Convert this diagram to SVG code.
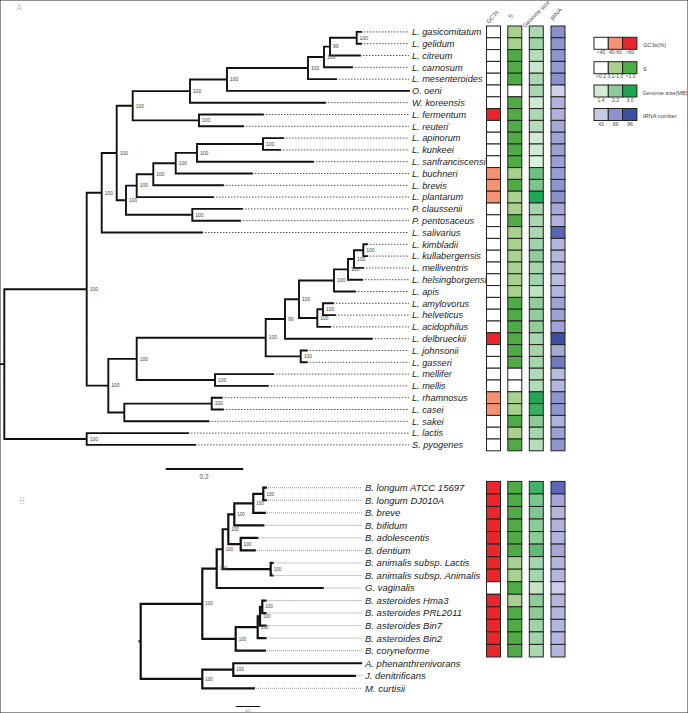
<svg xmlns="http://www.w3.org/2000/svg" width="688" height="713" viewBox="0 0 688 713">
<style>
.br{stroke:#111;stroke-width:1.9;fill:none;stroke-linecap:square}
.bb{stroke:#111;stroke-width:2.2;fill:none;stroke-linecap:square}
.dt{stroke:#444;stroke-width:0.9;stroke-dasharray:1.5 1.5;fill:none}
.db{stroke:#666;stroke-width:0.7;stroke-dasharray:1 1;fill:none}
.tx{font-family:"Liberation Sans",Arial,sans-serif;font-style:italic;font-size:9.2px;fill:#222}
.tb{font-family:"Liberation Sans",Arial,sans-serif;font-style:italic;font-size:9.5px;fill:#222}
.bs{font-family:"Liberation Sans",Arial,sans-serif;font-size:5px;fill:#444}
.bs2{font-family:"Liberation Sans",Arial,sans-serif;font-size:4.5px;fill:#444}
.hd{font-family:"Liberation Sans",Arial,sans-serif;font-size:6px;fill:#555}
.lg{font-family:"Liberation Sans",Arial,sans-serif;font-size:5.6px;fill:#444}
.lt{font-family:"Liberation Sans",Arial,sans-serif;font-size:5px;fill:#444;text-anchor:middle}
.pl{font-family:"DejaVu Sans",sans-serif;font-size:9px;fill:#aaa;font-weight:200}
rect{stroke:#222;stroke-width:1}
.w{fill:#fff}.r{fill:#e8262b}.o{fill:#f59272}.s1{fill:#a9d18e}.s2{fill:#4eab46}
</style>
<rect x="0" y="0" width="688" height="713" fill="#fff" stroke="none"/>
<text class="pl" x="16" y="11">A</text>
<text class="pl" x="19" y="504">B</text>
<text class="hd" transform="translate(489,24) rotate(-50)">GC3s</text>
<text class="hd" transform="translate(511,19) rotate(-50)">S</text>
<text class="hd" transform="translate(525,28) rotate(-45)">Genome size</text>
<text class="hd" transform="translate(553,21) rotate(-50)">tRNA</text>
<g id="legend">
<rect x="594" y="37.3" width="14.3" height="12" class="w"/><rect x="608.3" y="37.3" width="14.3" height="12" class="o"/><rect x="622.6" y="37.3" width="14.3" height="12" class="r"/>
<text class="lt" x="601" y="54">&lt;40</text><text class="lt" x="615.5" y="54">40-60</text><text class="lt" x="630" y="54">&gt;60</text>
<text class="lg" x="643" y="46.5">GC3s(%)</text>
<rect x="594" y="61.7" width="14.3" height="12" class="w"/><rect x="608.3" y="61.7" width="14.3" height="12" class="s1"/><rect x="622.6" y="61.7" width="14.3" height="12" class="s2"/>
<text class="lt" x="601" y="78.3">&lt;0.2</text><text class="lt" x="615.5" y="78.3">0.2-1.0</text><text class="lt" x="630.5" y="78.3">&gt;1.0</text>
<text class="lg" x="643" y="70.5">S</text>
<rect x="594" y="85" width="14.3" height="12" fill="#d3ebd5"/><rect x="608.3" y="85" width="14.3" height="12" fill="#8ccb99"/><rect x="622.6" y="85" width="14.3" height="12" fill="#1ba550"/>
<text class="lt" x="601" y="102">1.4</text><text class="lt" x="615.5" y="102">2.2</text><text class="lt" x="630" y="102">3.0</text>
<text class="lg" x="642.5" y="94.5">Genome size(MB)</text>
<rect x="594" y="108.5" width="14.3" height="12" fill="#c6c9e6"/><rect x="608.3" y="108.5" width="14.3" height="12" fill="#8c92ce"/><rect x="622.6" y="108.5" width="14.3" height="12" fill="#3a50a3"/>
<text class="lt" x="601" y="125.5">43</text><text class="lt" x="615.5" y="125.5">69</text><text class="lt" x="630" y="125.5">96</text>
<text class="lg" x="643" y="118">tRNA number</text>
</g>
<g id="connectors">
<path class="br" d="M356.7 31.9V43.7M356.7 31.9H361M356.7 43.7H361
M330 37.8V55.5M330 37.8H356.7M330 55.5H360
M324 46.65V67.3M324 46.65H330M324 67.3H352
M308 56.98V79.1M308 56.98H324M308 79.1H336
M227 68.04V90.9M227 68.04H308M227 90.9H409
M190 79.47V102.7M190 79.47H227M190 102.7H325
M199 114.5V126.3M199 114.5H263M199 126.3H243
M132.7 91.09V120.4M132.7 91.09H190M132.7 120.4H199
M263 138.1V149.9M263 138.1H283M263 149.9H280
M197 144V161.7M197 144H263M197 161.7H313
M175.7 152.85V173.5M175.7 152.85H197M175.7 173.5H252
M153.3 163.18V185.3M153.3 163.18H175.7M153.3 185.3H223
M136.7 174.24V197.1M136.7 174.24H153.3M136.7 197.1H213
M192.3 208.9V220.7M192.3 208.9H242M192.3 220.7H240
M126 185.67V214.8M126 185.67H136.7M126 214.8H192.3
M116.7 105.74V200.24M116.7 105.74H132.7M116.7 200.24H126
M101.7 152.99V232.5M101.7 152.99H116.7M101.7 232.5H202
M363.3 244.3V256.1M363.3 244.3H367M363.3 256.1H367
M354 250.2V267.9M354 250.2H363.3M354 267.9H363
M348 259.05V279.7M348 259.05H354M348 279.7H362
M334 269.38V291.5M334 269.38H348M334 291.5H355
M323 303.3V315.1M323 303.3H333M323 315.1H335
M317.3 309.2V326.9M317.3 309.2H323M317.3 326.9H330
M299 280.44V318.05M299 280.44H334M299 318.05H317.3
M285 299.25V338.7M285 299.25H299M285 338.7H371.7
M300.7 350.5V362.3M300.7 350.5H306.7M300.7 362.3H306.7
M265.7 318.98V356.4M265.7 318.98H285M265.7 356.4H300.7
M215 374.1V385.9M215 374.1H273M215 385.9H267.7
M136.7 337.69V380M136.7 337.69H265.7M136.7 380H215
M211.7 397.7V409.5M211.7 397.7H221.7M211.7 409.5H223
M124.3 403.6V421.3M124.3 403.6H211.7M124.3 421.3H208.3
M108.3 358.85V412.45M108.3 358.85H136.7M108.3 412.45H124.3
M86.7 192.75V385.65M86.7 192.75H101.7M86.7 385.65H108.3
M86.7 433.1V444.9M86.7 433.1H188M86.7 444.9H195
M4.3 289.2V439M4.3 289.2H86.7M4.3 439H86.7M0 364.1H4.3"/>
<path class="dt" d="M361 31.9H409M361 43.7H409M360 55.5H409M352 67.3H409M336 79.1H409M325 102.7H409M263 114.5H409M243 126.3H409M283 138.1H409M280 149.9H409M313 161.7H409M252 173.5H409M223 185.3H409M213 197.1H409M242 208.9H409M240 220.7H409M202 232.5H409M367 244.3H409M367 256.1H409M363 267.9H409M362 279.7H409M355 291.5H409M333 303.3H409M335 315.1H409M330 326.9H409M371.7 338.7H409M306.7 350.5H409M306.7 362.3H409M273 374.1H409M267.7 385.9H409M221.7 397.7H409M223 409.5H409M208.3 421.3H409M188 433.1H409M195 444.9H409"/>
<path class="bb" d="M263.3 487.7V500.24M263.3 487.7H266M263.3 500.24H266
M253.3 493.97V512.78M253.3 493.97H263.3M253.3 512.78H265
M234.3 503.38V525.32M234.3 503.38H253.3M234.3 525.32H263.3
M240.7 537.86V550.4M240.7 537.86H257.3M240.7 550.4H255
M228.3 514.35V544.13M228.3 514.35H234.3M228.3 544.13H240.7
M270.7 562.94V575.48M270.7 562.94H272.5M270.7 575.48H272.5
M222.7 529.24V569.21M222.7 529.24H228.3M222.7 569.21H270.7
M216.7 549.23V588.02M216.7 549.23H222.7M216.7 588.02H322.7
M262.3 600.56V613.1M262.3 600.56H265.5M262.3 613.1H265.5
M260 606.83V625.64M260 606.83H262.3M260 625.64H265.5
M257.7 616.24V638.18M257.7 616.24H260M257.7 638.18H265.5
M235.7 627.21V650.72M235.7 627.21H257.7M235.7 650.72H265
M202.3 568.63V638.97M202.3 568.63H216.7M202.3 638.97H235.7
M233.3 663.26V675.8M233.3 663.26H361M233.3 675.8H355
M202.3 669.53V688.34M202.3 669.53H233.3M202.3 688.34H254
M140.7 603.8V678.94M140.7 603.8H202.3M140.7 678.94H202.3"/>
<circle cx="139.4" cy="641.4" r="1.1" fill="#111"/>
<path class="db" d="M266 487.7H362M266 500.24H362M265 512.78H362M263.3 525.32H362M257.3 537.86H362M255 550.4H362M272.5 562.94H362M272.5 575.48H362M322.7 588.02H362M265.5 600.56H362M265.5 613.1H362M265.5 625.64H362M265.5 638.18H362M265 650.72H362M355 675.8H362M254 688.34H362"/>
</g>
<g id="bootstrap-A" class="bs">
<text x="359.5" y="39.6">100</text><text x="333" y="48.4">99</text><text x="327" y="58.7">100</text><text x="311" y="69.8">100</text>
<text x="230" y="81.2">100</text><text x="193" y="92.8">100</text><text x="202" y="122.1">100</text><text x="135.7" y="107.5">100</text>
<text x="266" y="145.7">100</text><text x="200" y="154.6">100</text><text x="178.7" y="164.9">100</text><text x="156.3" y="176">100</text>
<text x="139.7" y="187.4">100</text><text x="195.3" y="216.5">100</text><text x="129" y="202">100</text><text x="119.7" y="154.7">100</text>
<text x="104.7" y="194.5">100</text><text x="366.3" y="251.9">100</text><text x="357" y="260.8">100</text><text x="351" y="271.1">100</text>
<text x="337" y="282.2">100</text><text x="326" y="310.9">100</text><text x="320.3" y="319.8">100</text><text x="302" y="301">100</text>
<text x="288" y="320.7">99</text><text x="303.7" y="358.1">100</text><text x="268.7" y="339.4">100</text><text x="218" y="381.7">100</text>
<text x="139.7" y="360.6">100</text><text x="214.7" y="405.3">100</text><text x="111.3" y="387.4">100</text><text x="89.7" y="291">100</text>
<text x="89.7" y="440.7">100</text>
</g>
<g id="bootstrap-B" class="bs2">
<text x="266.5" y="495.6">100</text><text x="256.3" y="505">100</text><text x="237.3" y="516">100</text><text x="231.3" y="530.9">100</text>
<text x="243.7" y="545.8">100</text><text x="273.7" y="570.8">100</text><text x="225.7" y="550.9">100</text><text x="219.7" y="570.3">100</text>
<text x="265.3" y="608.4">100</text><text x="263" y="617.9">100</text><text x="260.7" y="628.9">100</text><text x="238.7" y="640.6">100</text>
<text x="205.3" y="605.4">100</text><text x="236.3" y="671.2">100</text><text x="205.3" y="680.6">100</text>
</g>
<g id="scale-bars">
<path d="M165.7 469H243.3" stroke="#111" stroke-width="2"/>
<text x="204" y="479" font-family="Liberation Sans, Arial, sans-serif" font-size="6.5" fill="#555" text-anchor="middle">0.2</text>
<path d="M236 706.5H260" stroke="#111" stroke-width="1"/>
<text x="248" y="712" font-family="Liberation Sans, Arial, sans-serif" font-size="3.5" fill="#555" text-anchor="middle">0.2</text>
</g>
<g id="taxa-A">
<g id="A-gasicomitatum"><text class="tx" x="412" y="35.2">L. gasicomitatum</text><rect x="486.5" y="26" width="14" height="11.8" class="w"/><rect x="507.8" y="26" width="14" height="11.8" class="s1"/><rect x="529.3" y="26" width="14" height="11.8" fill="#a9d8b2"/><rect x="551" y="26" width="14" height="11.8" fill="#8a90cc"/></g>
<g id="A-gelidum"><text class="tx" x="412" y="47">L. gelidum</text><rect x="486.5" y="37.8" width="14" height="11.8" class="w"/><rect x="507.8" y="37.8" width="14" height="11.8" class="s1"/><rect x="529.3" y="37.8" width="14" height="11.8" fill="#9fd3aa"/><rect x="551" y="37.8" width="14" height="11.8" fill="#8f95cf"/></g>
<g id="A-citreum"><text class="tx" x="412" y="58.8">L. citreum</text><rect x="486.5" y="49.6" width="14" height="11.8" class="w"/><rect x="507.8" y="49.6" width="14" height="11.8" class="s2"/><rect x="529.3" y="49.6" width="14" height="11.8" fill="#b5ddbc"/><rect x="551" y="49.6" width="14" height="11.8" fill="#8f95cf"/></g>
<g id="A-carnosum"><text class="tx" x="412" y="70.6">L. carnosum</text><rect x="486.5" y="61.4" width="14" height="11.8" class="w"/><rect x="507.8" y="61.4" width="14" height="11.8" class="s2"/><rect x="529.3" y="61.4" width="14" height="11.8" fill="#c8e6cc"/><rect x="551" y="61.4" width="14" height="11.8" fill="#959bd1"/></g>
<g id="A-mesenteroides"><text class="tx" x="412" y="82.4">L. mesenteroides</text><rect x="486.5" y="73.2" width="14" height="11.8" class="w"/><rect x="507.8" y="73.2" width="14" height="11.8" class="s2"/><rect x="529.3" y="73.2" width="14" height="11.8" fill="#a9d8b2"/><rect x="551" y="73.2" width="14" height="11.8" fill="#8a90cc"/></g>
<g id="A-oeni"><text class="tx" x="412" y="94.2">O. oeni</text><rect x="486.5" y="85" width="14" height="11.8" class="w"/><rect x="507.8" y="85" width="14" height="11.8" class="w"/><rect x="529.3" y="85" width="14" height="11.8" fill="#a7d7b0"/><rect x="551" y="85" width="14" height="11.8" fill="#d0d2eb"/></g>
<g id="A-koreensis"><text class="tx" x="412" y="106">W. koreensis</text><rect x="486.5" y="96.8" width="14" height="11.8" class="w"/><rect x="507.8" y="96.8" width="14" height="11.8" class="s2"/><rect x="529.3" y="96.8" width="14" height="11.8" fill="#cfe9d2"/><rect x="551" y="96.8" width="14" height="11.8" fill="#aeb2dc"/></g>
<g id="A-fermentum"><text class="tx" x="412" y="117.8">L. fermentum</text><rect x="486.5" y="108.6" width="14" height="11.8" class="r"/><rect x="507.8" y="108.6" width="14" height="11.8" class="s2"/><rect x="529.3" y="108.6" width="14" height="11.8" fill="#a9d8b2"/><rect x="551" y="108.6" width="14" height="11.8" fill="#aeb2dc"/></g>
<g id="A-reuteri"><text class="tx" x="412" y="129.6">L. reuteri</text><rect x="486.5" y="120.4" width="14" height="11.8" class="w"/><rect x="507.8" y="120.4" width="14" height="11.8" class="s2"/><rect x="529.3" y="120.4" width="14" height="11.8" fill="#b5ddbc"/><rect x="551" y="120.4" width="14" height="11.8" fill="#a4a8d7"/></g>
<g id="A-apinorum"><text class="tx" x="412" y="141.4">L. apinorum</text><rect x="486.5" y="132.2" width="14" height="11.8" class="w"/><rect x="507.8" y="132.2" width="14" height="11.8" class="s2"/><rect x="529.3" y="132.2" width="14" height="11.8" fill="#d3ebd5"/><rect x="551" y="132.2" width="14" height="11.8" fill="#9fa3d5"/></g>
<g id="A-kunkeei"><text class="tx" x="412" y="153.2">L. kunkeei</text><rect x="486.5" y="144" width="14" height="11.8" class="w"/><rect x="507.8" y="144" width="14" height="11.8" class="s2"/><rect x="529.3" y="144" width="14" height="11.8" fill="#cfe9d2"/><rect x="551" y="144" width="14" height="11.8" fill="#9aa0d3"/></g>
<g id="A-sanfranciscensis"><text class="tx" x="412" y="165">L. sanfranciscensis</text><rect x="486.5" y="155.8" width="14" height="11.8" class="w"/><rect x="507.8" y="155.8" width="14" height="11.8" class="s2"/><rect x="529.3" y="155.8" width="14" height="11.8" fill="#dcefdd"/><rect x="551" y="155.8" width="14" height="11.8" fill="#9aa0d3"/></g>
<g id="A-buchneri"><text class="tx" x="412" y="176.8">L. buchneri</text><rect x="486.5" y="167.6" width="14" height="11.8" class="o"/><rect x="507.8" y="167.6" width="14" height="11.8" class="s1"/><rect x="529.3" y="167.6" width="14" height="11.8" fill="#6fbf83"/><rect x="551" y="167.6" width="14" height="11.8" fill="#9a9fd3"/></g>
<g id="A-brevis"><text class="tx" x="412" y="188.6">L. brevis</text><rect x="486.5" y="179.4" width="14" height="11.8" class="o"/><rect x="507.8" y="179.4" width="14" height="11.8" class="s2"/><rect x="529.3" y="179.4" width="14" height="11.8" fill="#7cc58f"/><rect x="551" y="179.4" width="14" height="11.8" fill="#8f95cf"/></g>
<g id="A-plantarum"><text class="tx" x="412" y="200.4">L. plantarum</text><rect x="486.5" y="191.2" width="14" height="11.8" class="o"/><rect x="507.8" y="191.2" width="14" height="11.8" class="s1"/><rect x="529.3" y="191.2" width="14" height="11.8" fill="#1fa855"/><rect x="551" y="191.2" width="14" height="11.8" fill="#8a90cc"/></g>
<g id="A-claussenii"><text class="tx" x="412" y="212.2">P. claussenii</text><rect x="486.5" y="203" width="14" height="11.8" class="w"/><rect x="507.8" y="203" width="14" height="11.8" class="s1"/><rect x="529.3" y="203" width="14" height="11.8" fill="#a4d6ad"/><rect x="551" y="203" width="14" height="11.8" fill="#a4a8d7"/></g>
<g id="A-pentosaceus"><text class="tx" x="412" y="224">P. pentosaceus</text><rect x="486.5" y="214.8" width="14" height="11.8" class="w"/><rect x="507.8" y="214.8" width="14" height="11.8" class="s2"/><rect x="529.3" y="214.8" width="14" height="11.8" fill="#a9d8b2"/><rect x="551" y="214.8" width="14" height="11.8" fill="#aeb2dc"/></g>
<g id="A-salivarius"><text class="tx" x="412" y="235.8">L. salivarius</text><rect x="486.5" y="226.6" width="14" height="11.8" class="w"/><rect x="507.8" y="226.6" width="14" height="11.8" class="s1"/><rect x="529.3" y="226.6" width="14" height="11.8" fill="#a9d8b2"/><rect x="551" y="226.6" width="14" height="11.8" fill="#5a66b4"/></g>
<g id="A-kimbladii"><text class="tx" x="412" y="247.6">L. kimbladii</text><rect x="486.5" y="238.4" width="14" height="11.8" class="w"/><rect x="507.8" y="238.4" width="14" height="11.8" class="s1"/><rect x="529.3" y="238.4" width="14" height="11.8" fill="#9fd3aa"/><rect x="551" y="238.4" width="14" height="11.8" fill="#b3b6de"/></g>
<g id="A-kullabergensis"><text class="tx" x="412" y="259.4">L. kullabergensis</text><rect x="486.5" y="250.2" width="14" height="11.8" class="w"/><rect x="507.8" y="250.2" width="14" height="11.8" class="s1"/><rect x="529.3" y="250.2" width="14" height="11.8" fill="#8dcb98"/><rect x="551" y="250.2" width="14" height="11.8" fill="#b3b6de"/></g>
<g id="A-melliventris"><text class="tx" x="412" y="271.2">L. melliventris</text><rect x="486.5" y="262" width="14" height="11.8" class="w"/><rect x="507.8" y="262" width="14" height="11.8" class="s1"/><rect x="529.3" y="262" width="14" height="11.8" fill="#a4d6ad"/><rect x="551" y="262" width="14" height="11.8" fill="#b3b6de"/></g>
<g id="A-helsingborgensis"><text class="tx" x="412" y="283">L. helsingborgensis</text><rect x="486.5" y="273.8" width="14" height="11.8" class="w"/><rect x="507.8" y="273.8" width="14" height="11.8" class="s1"/><rect x="529.3" y="273.8" width="14" height="11.8" fill="#9fd3aa"/><rect x="551" y="273.8" width="14" height="11.8" fill="#b8bbe0"/></g>
<g id="A-apis"><text class="tx" x="412" y="294.8">L. apis</text><rect x="486.5" y="285.6" width="14" height="11.8" class="w"/><rect x="507.8" y="285.6" width="14" height="11.8" class="s1"/><rect x="529.3" y="285.6" width="14" height="11.8" fill="#bfe2c4"/><rect x="551" y="285.6" width="14" height="11.8" fill="#b3b6de"/></g>
<g id="A-amylovorus"><text class="tx" x="412" y="306.6">L. amylovorus</text><rect x="486.5" y="297.4" width="14" height="11.8" class="w"/><rect x="507.8" y="297.4" width="14" height="11.8" class="s2"/><rect x="529.3" y="297.4" width="14" height="11.8" fill="#90cc9c"/><rect x="551" y="297.4" width="14" height="11.8" fill="#9ea2d4"/></g>
<g id="A-helveticus"><text class="tx" x="412" y="318.4">L. helveticus</text><rect x="486.5" y="309.2" width="14" height="11.8" class="w"/><rect x="507.8" y="309.2" width="14" height="11.8" class="s2"/><rect x="529.3" y="309.2" width="14" height="11.8" fill="#90cc9c"/><rect x="551" y="309.2" width="14" height="11.8" fill="#9ea2d4"/></g>
<g id="A-acidophilus"><text class="tx" x="412" y="330.2">L. acidophilus</text><rect x="486.5" y="321" width="14" height="11.8" class="w"/><rect x="507.8" y="321" width="14" height="11.8" class="s2"/><rect x="529.3" y="321" width="14" height="11.8" fill="#90cc9c"/><rect x="551" y="321" width="14" height="11.8" fill="#9ea2d4"/></g>
<g id="A-delbrueckii"><text class="tx" x="412" y="342">L. delbrueckii</text><rect x="486.5" y="332.8" width="14" height="11.8" class="r"/><rect x="507.8" y="332.8" width="14" height="11.8" class="s2"/><rect x="529.3" y="332.8" width="14" height="11.8" fill="#a4d6ad"/><rect x="551" y="332.8" width="14" height="11.8" fill="#3b4fa2"/></g>
<g id="A-johnsonii"><text class="tx" x="412" y="353.8">L. johnsonii</text><rect x="486.5" y="344.6" width="14" height="11.8" class="w"/><rect x="507.8" y="344.6" width="14" height="11.8" class="s2"/><rect x="529.3" y="344.6" width="14" height="11.8" fill="#a4d6ad"/><rect x="551" y="344.6" width="14" height="11.8" fill="#a4a8d7"/></g>
<g id="A-gasseri"><text class="tx" x="412" y="365.6">L. gasseri</text><rect x="486.5" y="356.4" width="14" height="11.8" class="w"/><rect x="507.8" y="356.4" width="14" height="11.8" class="s2"/><rect x="529.3" y="356.4" width="14" height="11.8" fill="#a4d6ad"/><rect x="551" y="356.4" width="14" height="11.8" fill="#6f79bf"/></g>
<g id="A-mellifer"><text class="tx" x="412" y="377.4">L. mellifer</text><rect x="486.5" y="368.2" width="14" height="11.8" class="w"/><rect x="507.8" y="368.2" width="14" height="11.8" class="w"/><rect x="529.3" y="368.2" width="14" height="11.8" fill="#b0dbb8"/><rect x="551" y="368.2" width="14" height="11.8" fill="#b8bbe0"/></g>
<g id="A-mellis"><text class="tx" x="412" y="389.2">L. mellis</text><rect x="486.5" y="380" width="14" height="11.8" class="w"/><rect x="507.8" y="380" width="14" height="11.8" class="w"/><rect x="529.3" y="380" width="14" height="11.8" fill="#b0dbb8"/><rect x="551" y="380" width="14" height="11.8" fill="#b3b6de"/></g>
<g id="A-rhamnosus"><text class="tx" x="412" y="401">L. rhamnosus</text><rect x="486.5" y="391.8" width="14" height="11.8" class="o"/><rect x="507.8" y="391.8" width="14" height="11.8" class="s1"/><rect x="529.3" y="391.8" width="14" height="11.8" fill="#23a659"/><rect x="551" y="391.8" width="14" height="11.8" fill="#8f95cf"/></g>
<g id="A-casei"><text class="tx" x="412" y="412.8">L. casei</text><rect x="486.5" y="403.6" width="14" height="11.8" class="o"/><rect x="507.8" y="403.6" width="14" height="11.8" class="s1"/><rect x="529.3" y="403.6" width="14" height="11.8" fill="#3aae60"/><rect x="551" y="403.6" width="14" height="11.8" fill="#8f95cf"/></g>
<g id="A-sakei"><text class="tx" x="412" y="424.6">L. sakei</text><rect x="486.5" y="415.4" width="14" height="11.8" class="w"/><rect x="507.8" y="415.4" width="14" height="11.8" class="s2"/><rect x="529.3" y="415.4" width="14" height="11.8" fill="#8dcb98"/><rect x="551" y="415.4" width="14" height="11.8" fill="#aeb2dc"/></g>
<g id="A-lactis"><text class="tx" x="412" y="436.4">L. lactis</text><rect x="486.5" y="427.2" width="14" height="11.8" class="w"/><rect x="507.8" y="427.2" width="14" height="11.8" class="s1"/><rect x="529.3" y="427.2" width="14" height="11.8" fill="#a4d6ad"/><rect x="551" y="427.2" width="14" height="11.8" fill="#9aa0d3"/></g>
<g id="A-pyogenes"><text class="tx" x="412" y="448.2">S. pyogenes</text><rect x="486.5" y="439" width="14" height="11.8" class="w"/><rect x="507.8" y="439" width="14" height="11.8" class="s2"/><rect x="529.3" y="439" width="14" height="11.8" fill="#b5ddbc"/><rect x="551" y="439" width="14" height="11.8" fill="#8f95cf"/></g>
</g>
<g id="taxa-B">
<g id="B-longum-ATCC"><text class="tb" x="365" y="491">B. longum ATCC 15697</text><rect x="486.5" y="481.4" width="14" height="12.54" class="r"/><rect x="507.8" y="481.4" width="14" height="12.54" class="s2"/><rect x="529.3" y="481.4" width="14" height="12.54" fill="#3db468"/><rect x="551" y="481.4" width="14" height="12.54" fill="#5c67b5"/></g>
<g id="B-longum-DJ010A"><text class="tb" x="365" y="503.5">B. longum DJ010A</text><rect x="486.5" y="493.94" width="14" height="12.54" class="r"/><rect x="507.8" y="493.94" width="14" height="12.54" class="s2"/><rect x="529.3" y="493.94" width="14" height="12.54" fill="#7bc68e"/><rect x="551" y="493.94" width="14" height="12.54" fill="#a2a6d6"/></g>
<g id="B-breve"><text class="tb" x="365" y="516.1">B. breve</text><rect x="486.5" y="506.48" width="14" height="12.54" class="r"/><rect x="507.8" y="506.48" width="14" height="12.54" class="s2"/><rect x="529.3" y="506.48" width="14" height="12.54" fill="#80c892"/><rect x="551" y="506.48" width="14" height="12.54" fill="#b3b6de"/></g>
<g id="B-bifidum"><text class="tb" x="365" y="528.6">B. bifidum</text><rect x="486.5" y="519.02" width="14" height="12.54" class="r"/><rect x="507.8" y="519.02" width="14" height="12.54" class="s2"/><rect x="529.3" y="519.02" width="14" height="12.54" fill="#8dcb98"/><rect x="551" y="519.02" width="14" height="12.54" fill="#b0b3dd"/></g>
<g id="B-adolescentis"><text class="tb" x="365" y="541.2">B. adolescentis</text><rect x="486.5" y="531.56" width="14" height="12.54" class="r"/><rect x="507.8" y="531.56" width="14" height="12.54" class="s2"/><rect x="529.3" y="531.56" width="14" height="12.54" fill="#8dcb98"/><rect x="551" y="531.56" width="14" height="12.54" fill="#b0b3dd"/></g>
<g id="B-dentium"><text class="tb" x="365" y="553.7">B. dentium</text><rect x="486.5" y="544.1" width="14" height="12.54" class="r"/><rect x="507.8" y="544.1" width="14" height="12.54" class="s2"/><rect x="529.3" y="544.1" width="14" height="12.54" fill="#5dbb78"/><rect x="551" y="544.1" width="14" height="12.54" fill="#a4a8d7"/></g>
<g id="B-animalis-Lactis"><text class="tb" x="365" y="566.2">B. animalis subsp. Lactis</text><rect x="486.5" y="556.64" width="14" height="12.54" class="r"/><rect x="507.8" y="556.64" width="14" height="12.54" class="s1"/><rect x="529.3" y="556.64" width="14" height="12.54" fill="#a4d6ad"/><rect x="551" y="556.64" width="14" height="12.54" fill="#b3b6de"/></g>
<g id="B-animalis-Animalis"><text class="tb" x="365" y="578.8">B. animalis subsp. Animalis</text><rect x="486.5" y="569.18" width="14" height="12.54" class="r"/><rect x="507.8" y="569.18" width="14" height="12.54" class="s1"/><rect x="529.3" y="569.18" width="14" height="12.54" fill="#a4d6ad"/><rect x="551" y="569.18" width="14" height="12.54" fill="#b3b6de"/></g>
<g id="B-vaginalis"><text class="tb" x="365" y="591.3">G. vaginalis</text><rect x="486.5" y="581.72" width="14" height="12.54" class="w"/><rect x="507.8" y="581.72" width="14" height="12.54" class="s2"/><rect x="529.3" y="581.72" width="14" height="12.54" fill="#c3e4c8"/><rect x="551" y="581.72" width="14" height="12.54" fill="#cdcfea"/></g>
<g id="B-asteroides-Hma3"><text class="tb" x="365" y="603.9">B. asteroides Hma3</text><rect x="486.5" y="594.26" width="14" height="12.54" class="r"/><rect x="507.8" y="594.26" width="14" height="12.54" class="s1"/><rect x="529.3" y="594.26" width="14" height="12.54" fill="#8dcb98"/><rect x="551" y="594.26" width="14" height="12.54" fill="#b3b6de"/></g>
<g id="B-asteroides-PRL2011"><text class="tb" x="365" y="616.4">B. asteroides PRL2011</text><rect x="486.5" y="606.8" width="14" height="12.54" class="r"/><rect x="507.8" y="606.8" width="14" height="12.54" class="s2"/><rect x="529.3" y="606.8" width="14" height="12.54" fill="#8dcb98"/><rect x="551" y="606.8" width="14" height="12.54" fill="#b3b6de"/></g>
<g id="B-asteroides-Bin7"><text class="tb" x="365" y="628.9">B. asteroides Bin7</text><rect x="486.5" y="619.34" width="14" height="12.54" class="r"/><rect x="507.8" y="619.34" width="14" height="12.54" class="s2"/><rect x="529.3" y="619.34" width="14" height="12.54" fill="#9fd3aa"/><rect x="551" y="619.34" width="14" height="12.54" fill="#b3b6de"/></g>
<g id="B-asteroides-Bin2"><text class="tb" x="365" y="641.5">B. asteroides Bin2</text><rect x="486.5" y="631.88" width="14" height="12.54" class="r"/><rect x="507.8" y="631.88" width="14" height="12.54" class="s2"/><rect x="529.3" y="631.88" width="14" height="12.54" fill="#9fd3aa"/><rect x="551" y="631.88" width="14" height="12.54" fill="#b3b6de"/></g>
<g id="B-coryneforme"><text class="tb" x="365" y="654">B. coryneforme</text><rect x="486.5" y="644.42" width="14" height="12.54" class="r"/><rect x="507.8" y="644.42" width="14" height="12.54" class="s2"/><rect x="529.3" y="644.42" width="14" height="12.54" fill="#a9d8b2"/><rect x="551" y="644.42" width="14" height="12.54" fill="#b3b6de"/></g>
<g id="B-phenanthrenivorans"><text class="tb" x="365" y="666.6">A. phenanthrenivorans</text></g>
<g id="B-denitrificans"><text class="tb" x="365" y="679.1">J. denitrificans</text></g>
<g id="B-curtisii"><text class="tb" x="365" y="691.6">M. curtisii</text></g>
</g>
</svg>
